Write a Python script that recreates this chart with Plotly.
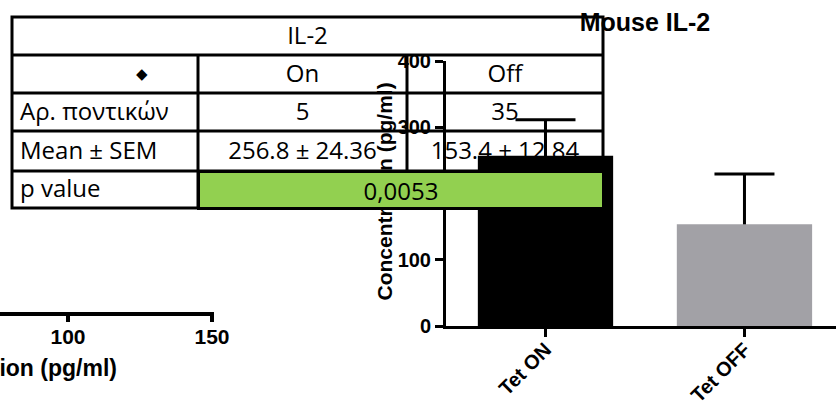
import math
import plotly.graph_objects as go

# ---- data ----
groups = ["Tet ON", "Tet OFF"]
table_groups = ["On", "Off"]
means = [256.8, 153.4]
sems = [24.36, 12.84]
n_mice = [5, 35]
p_value = "0,0053"
bar_colors = ["#000000", "#a2a1a6"]
y_ticks = [0, 100, 200, 300, 400]
left_ticks = [100, 150]

# error bars show the standard deviation (SEM * sqrt(n))
sds = [s * math.sqrt(n) for s, n in zip(sems, n_mice)]

W, H = 836, 401


def px(x):
    return x / W


def py(y):
    return 1 - y / H


AXIS_FONT = "Liberation Sans, Arial, sans-serif"
TABLE_FONT = "Open Sans, Noto Sans, sans-serif"

fig = go.Figure()

# error bars first (transparent bars), solid bars on top hide the lower half
fig.add_trace(go.Bar(
    x=groups, y=means, width=0.68,
    marker=dict(color="rgba(0,0,0,0)", line=dict(width=0)),
    error_y=dict(type="data", array=sds, symmetric=True,
                 thickness=3, width=30, color="#000000"),
    showlegend=False, hoverinfo="skip",
))
fig.add_trace(go.Bar(
    x=groups, y=means, width=0.68,
    marker=dict(color=bar_colors, line=dict(width=0)),
    showlegend=False,
))

# partial x axis of a neighbouring panel (bottom left)
fig.add_trace(go.Scatter(x=[None], y=[None], xaxis="x2", yaxis="y2",
                         showlegend=False))

fig.update_layout(
    width=W, height=H,
    margin=dict(l=0, r=0, t=0, b=0, autoexpand=False),
    paper_bgcolor="white", plot_bgcolor="rgba(0,0,0,0)",
    barmode="overlay",
    title=dict(text="Mouse IL-2", x=px(645), xanchor="center",
               y=py(22), yanchor="middle", automargin=False,
               font=dict(family=AXIS_FONT, size=25, color="#000", weight="bold")),
    xaxis=dict(
        domain=[px(446), 1], range=[-0.5, 1.46], automargin=False,
        showline=True, linewidth=3, linecolor="#000",
        ticks="outside", ticklen=8, tickwidth=3, tickcolor="#000",
        tickangle=-45, ticklabelstandoff=-7,
        showgrid=False, zeroline=False,
        tickfont=dict(family=AXIS_FONT, size=20, color="#000", weight="bold"),
    ),
    yaxis=dict(
        domain=[py(326), py(61)], range=[0, 400], automargin=False,
        tickvals=y_ticks,
        showline=True, linewidth=3, linecolor="#000",
        ticks="outside", ticklen=8, tickwidth=3, tickcolor="#000",
        showgrid=False, zeroline=False,
        tickfont=dict(family=AXIS_FONT, size=20, color="#000", weight="bold"),
    ),
    xaxis2=dict(
        domain=[0, px(214)], range=[76.39, 150.69], anchor="y2",
        automargin=False, tickvals=left_ticks,
        showline=True, linewidth=4, linecolor="#000",
        ticks="outside", ticklen=6, tickwidth=4, tickcolor="#000",
        ticklabelstandoff=-3,
        showgrid=False, zeroline=False,
        tickfont=dict(family=AXIS_FONT, size=21, color="#000", weight="bold"),
    ),
    yaxis2=dict(domain=[py(312), py(300)], anchor="x2", visible=False,
                automargin=False, range=[0, 1]),
)

# ---- table ----
x_edges = [12, 198, 407, 603]
y_edges = [17, 55, 93, 131, 171, 208]

shapes = []


def text_cell(x0, x1, y0, y1, text, pos="middle center", size=24):
    shapes.append(dict(
        type="rect", xref="paper", yref="paper",
        x0=px(x0), x1=px(x1), y0=py(y1), y1=py(y0),
        line=dict(width=0), fillcolor="rgba(0,0,0,0)", layer="below",
        label=dict(text=text, textposition=pos, padding=5,
                   font=dict(family=TABLE_FONT, size=size, color="#000")),
    ))


text_cell(x_edges[0], x_edges[3], y_edges[0], y_edges[1], "IL-2")
text_cell(132, 152, y_edges[1], y_edges[2], "◆", size=15)
text_cell(x_edges[0], x_edges[1], y_edges[2], y_edges[3], "Αρ. ποντικών", "middle left")
text_cell(x_edges[0], x_edges[1], y_edges[3], y_edges[4], "Mean ± SEM", "middle left")
text_cell(x_edges[0], x_edges[1], y_edges[4], y_edges[5], "p value", "middle left")
for i in range(2):
    xa, xb = x_edges[i + 1], x_edges[i + 2]
    text_cell(xa, xb, y_edges[1], y_edges[2], table_groups[i])
    text_cell(xa, xb, y_edges[2], y_edges[3], str(n_mice[i]))
    text_cell(xa, xb, y_edges[3], y_edges[4], f"{means[i]} ± {sems[i]}")


def line(x0, y0, x1, y1):
    shapes.append(dict(type="line", xref="paper", yref="paper",
                       x0=px(x0), y0=py(y0), x1=px(x1), y1=py(y1),
                       line=dict(color="#000", width=3), layer="above"))


shapes.append(dict(type="rect", xref="paper", yref="paper",
                   x0=px(x_edges[0]), x1=px(x_edges[3]),
                   y0=py(y_edges[5]), y1=py(y_edges[0]),
                   line=dict(color="#000", width=3), layer="above"))
for yy in y_edges[1:5]:
    line(x_edges[0], yy, x_edges[3], yy)
line(x_edges[1], y_edges[1], x_edges[1], y_edges[5])
line(x_edges[2], y_edges[1], x_edges[2], y_edges[4])

fig.update_layout(shapes=shapes)

annotations = [
    # y-axis title of the bar chart
    dict(text="Concentration (pg/ml)", x=px(384), y=py(191.5),
         xref="paper", yref="paper", showarrow=False, textangle=-90,
         xanchor="center", yanchor="middle",
         font=dict(family=AXIS_FONT, size=21, color="#000", weight="bold")),
    # x-axis title of the neighbouring panel
    dict(text="Concentration (pg/ml)", x=px(119), y=py(368),
         xref="paper", yref="paper", showarrow=False,
         xanchor="right", yanchor="middle",
         font=dict(family=AXIS_FONT, size=23, color="#000", weight="bold")),
    # p value cell (merged, green)
    dict(text=p_value, x=px((x_edges[1] + x_edges[3]) / 2),
         y=py((y_edges[4] + y_edges[5]) / 2),
         xref="paper", yref="paper", showarrow=False,
         xanchor="center", yanchor="middle",
         width=x_edges[3] - x_edges[1] + 3 - 6,
         height=y_edges[5] - y_edges[4] + 3 - 6,
         bgcolor="#92d050", bordercolor="#000", borderwidth=3, borderpad=0,
         font=dict(family=TABLE_FONT, size=24, color="#000")),
]
fig.update_layout(annotations=annotations)

fig.write_html("out.html")
